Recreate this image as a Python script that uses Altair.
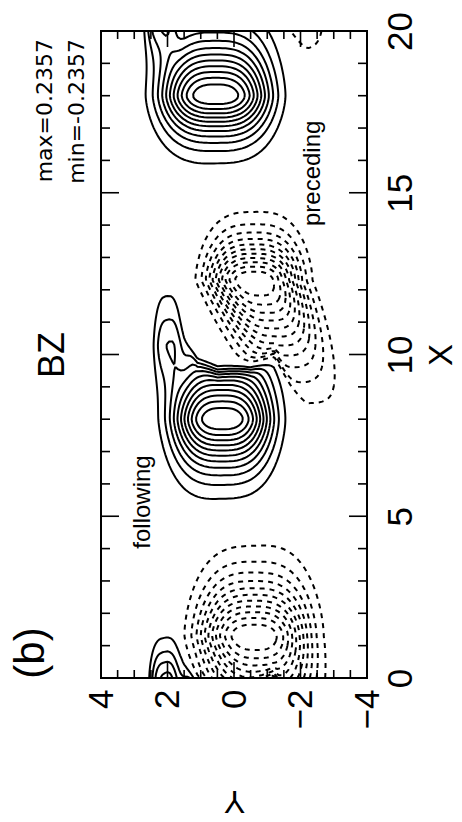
import numpy as np
import pandas as pd
import altair as alt
from collections import defaultdict

alt.data_transformers.disable_max_rows()

FONT = "Liberation Sans"
NOTE_FONT = "DejaVu Sans"

# Extremes of the Bz field and number of contour steps between 0 and each extreme
BZ_MAX = 0.2357
BZ_MIN = -0.2357
N_STEPS = 12

# Polarity pairs: positive lobe followed (in X) by a negative lobe.
# Widths are given below / above the centre in X and across Y.
pos_x = [-2.0, 8.0, 18.0]
pos_y = [0.5, 0.35, 0.55]
pos_sx_lo = [1.42, 1.42, 1.19]
pos_sx_hi = [1.6, 1.6, 1.6]
pos_sy = [1.4, 1.4, 1.55]
neg_x = [1.3, 12.3, 22.8]
neg_y = [-0.6, -0.6, -0.6]
neg_sx_lo = [2.0, 2.2, 2.0]
neg_sx_hi = [1.6, 1.2, 1.2]
neg_sy = [1.55, 1.3, 1.3]
neg_tilt = [0.15, 0.4, 0.3]   # drift of the lobe axis in Y per unit X, on its low-X side
iface_shift = [0.0, 0.0, 1.0]

# Interface between the lobes of a pair, as X offset from the positive centre
iface_y = [-4.0, -2.2, -1.7, -1.2, -0.5, 0.5, 1.1, 1.5, 1.9, 4.0]
iface_dx = [0.2, 0.2, 1.0, 2.0, 1.6, 1.5, 1.8, 2.6, 4.0, 5.0]
IFACE_W = 0.12

# Secondary positive fingers along Y ~ 2
ext_x = [0.0, 10.3, 20.3]
ext_y = [2.1, 2.0, 2.2]
ext_amp = [0.3, 0.22, 0.3]
ext_sx_lo = [1.0, 1.2, 1.0]
ext_sx_hi = [1.0, 1.5, 1.0]
ext_sy = [0.4, 0.41, 0.45]

# Profile exponents along X and Y
P_X = 1.6
P_Y = 3.0

# Axis ticks
X_LABELS = [0, 5, 10, 15, 20]
X_MAJOR = [5, 10, 15]
X_MINOR = [1, 2, 3, 4, 6, 7, 8, 9, 11, 12, 13, 14, 16, 17, 18, 19]
Y_LABELS = [-4, -2, 0, 2, 4]
Y_MAJOR = [-2, 0, 2]
Y_MINOR = [-3.5, -3, -2.5, -1.5, -1, -0.5, 0.5, 1, 1.5, 2.5, 3, 3.5]

# Region labels placed in data coordinates
region_text = ["following", "preceding"]
region_x = [5.44, 15.6]
region_y = [2.74, -2.38]

# ---------------------------------------------------------------- field on a grid
xs = np.linspace(0.0, 20.0, 401)
ys = np.linspace(-4.0, 4.0, 161)
XX, YY = np.meshgrid(xs, ys)


def lobe(cx, cy, amp, slo, shi, sy, tilt=0.0):
    sx = np.where(XX < cx, slo, shi)
    cy_eff = cy + tilt * np.minimum(XX - cx, 0.0)
    return amp * np.exp(-(np.abs((XX - cx) / sx) ** P_X + np.abs((YY - cy_eff) / sy) ** P_Y))


Z = np.zeros_like(XX)
for k in range(len(pos_x)):
    xi = pos_x[k] + iface_shift[k] + np.interp(YY, iface_y, iface_dx)
    step = 1.0 / (1.0 + np.exp(-(XX - xi) / IFACE_W))
    Z += lobe(pos_x[k], pos_y[k], 1.0, pos_sx_lo[k], pos_sx_hi[k], pos_sy[k]) * (1 - step)
    Z += lobe(neg_x[k], neg_y[k], -1.0, neg_sx_lo[k], neg_sx_hi[k], neg_sy[k],
              neg_tilt[k]) * step
for args in zip(ext_x, ext_y, ext_amp, ext_sx_lo, ext_sx_hi, ext_sy):
    Z += lobe(*args)
Z = np.where(Z > 0, Z / Z.max() * BZ_MAX, Z / (-Z.min()) * (-BZ_MIN))


def edge_point(e, level):
    kind, j, i = e
    if kind == 0:
        z0, z1 = Z[j, i], Z[j, i + 1]
        t = (level - z0) / (z1 - z0)
        return xs[i] + t * (xs[i + 1] - xs[i]), ys[j]
    z0, z1 = Z[j, i], Z[j + 1, i]
    t = (level - z0) / (z1 - z0)
    return xs[i], ys[j] + t * (ys[j + 1] - ys[j])


def contour_paths(level):
    """Marching squares, stitched into polylines."""
    B = Z > level
    a, b, c, d = B[:-1, :-1], B[:-1, 1:], B[1:, 1:], B[1:, :-1]
    code = a * 1 + b * 2 + c * 4 + d * 8
    js, iis = np.nonzero((code != 0) & (code != 15))
    segs = []
    for j, i in zip(js, iis):
        e0, e1, e2, e3 = (0, j, i), (1, j, i + 1), (0, j + 1, i), (1, j, i)
        ca, cb, cc, cdd = a[j, i], b[j, i], c[j, i], d[j, i]
        cd = code[j, i]
        if cd in (5, 10):
            centre = (Z[j, i] + Z[j, i + 1] + Z[j + 1, i] + Z[j + 1, i + 1]) / 4 > level
            if (cd == 5) == centre:
                segs += [(e0, e1), (e2, e3)]
            else:
                segs += [(e0, e3), (e1, e2)]
            continue
        crossed = []
        if ca != cb:
            crossed.append(e0)
        if cb != cc:
            crossed.append(e1)
        if cc != cdd:
            crossed.append(e2)
        if cdd != ca:
            crossed.append(e3)
        segs.append((crossed[0], crossed[1]))

    adj = defaultdict(list)
    for k, (p, q) in enumerate(segs):
        adj[p].append(k)
        adj[q].append(k)
    used = [False] * len(segs)
    ends = [e for e, ks in adj.items() if len(ks) == 1]
    paths = []
    for e in ends + list(adj.keys()):
        for k in adj[e]:
            if used[k]:
                continue
            chain = [e]
            cur_e, cur_k = e, k
            while True:
                used[cur_k] = True
                p, q = segs[cur_k]
                nxt = q if p == cur_e else p
                chain.append(nxt)
                cand = [kk for kk in adj[nxt] if not used[kk]]
                if not cand:
                    break
                cur_e, cur_k = nxt, cand[0]
            paths.append([edge_point(ed, level) for ed in chain])
    return paths


rows = []
pid = 0
for k in range(1, N_STEPS):
    for sign, level in (("pos", BZ_MAX * k / N_STEPS), ("neg", BZ_MIN * k / N_STEPS)):
        for path in contour_paths(level):
            if len(path) < 3:
                continue
            keep = path[::2]
            if keep[-1] is not path[-1]:
                keep.append(path[-1])
            for s, (px, py) in enumerate(keep):
                rows.append({"path": pid, "seq": s, "X": px, "Y": py, "sign": sign})
            pid += 1
contours = pd.DataFrame(rows)

# ---------------------------------------------------------------- chart
W, H = 266, 647

x_enc = alt.X(
    "Y:Q",
    scale=alt.Scale(domain=[4, -4], nice=False, zero=False),
    axis=alt.Axis(
        values=Y_LABELS, orient="bottom", labelAngle=270, labelAlign="right",
        labelBaseline="middle", labelFontSize=35, labelFont=FONT, labelColor="black",
        labelPadding=11, labelFlush=False, ticks=False, domain=False, grid=False,
        title="Y", titleFont=FONT, titleFontSize=32, titleFontWeight="normal",
        titleColor="black", titleAngle=180, titleX=133, titleY=122,
        titleAlign="center", titleBaseline="middle",
    ),
)
y_enc = alt.Y(
    "X:Q",
    scale=alt.Scale(domain=[0, 20], nice=False, zero=False),
    axis=alt.Axis(
        values=X_LABELS, orient="right", labelAngle=270, labelAlign="center",
        labelBaseline="top", labelFontSize=35, labelFont=FONT, labelColor="black",
        labelPadding=16, labelFlush=False, ticks=False, domain=False, grid=False,
        title="X", titleFont=FONT, titleFontSize=33, titleFontWeight="normal",
        titleColor="black", titleAngle=270, titleX=74, titleY=H / 2,
        titleAlign="center", titleBaseline="middle",
    ),
)

pos = alt.Chart(contours[contours.sign == "pos"]).mark_line(
    color="black", strokeWidth=2.0, clip=True
).encode(x=x_enc, y=y_enc, detail="path:N", order="seq:Q")

neg = alt.Chart(contours[contours.sign == "neg"]).mark_line(
    color="black", strokeWidth=2.0, strokeDash=[5, 5], clip=True
).encode(x="Y:Q", y="X:Q", detail="path:N", order="seq:Q")


def x_ticks(vals, length):
    df = pd.DataFrame({"X": vals})
    left = alt.Chart(df).mark_rule(color="black", strokeWidth=1.6).encode(
        y="X:Q", x=alt.value(0), x2=alt.value(length))
    right = alt.Chart(df).mark_rule(color="black", strokeWidth=1.6).encode(
        y="X:Q", x=alt.value(W - length), x2=alt.value(W))
    return [left, right]


def y_ticks(vals, length):
    df = pd.DataFrame({"Y": vals})
    top = alt.Chart(df).mark_rule(color="black", strokeWidth=1.6).encode(
        x="Y:Q", y=alt.value(0), y2=alt.value(length))
    bottom = alt.Chart(df).mark_rule(color="black", strokeWidth=1.6).encode(
        x="Y:Q", y=alt.value(H - length), y2=alt.value(H))
    return [top, bottom]


regions = alt.Chart(pd.DataFrame({"X": region_x, "Y": region_y, "t": region_text})).mark_text(
    angle=270, font=FONT, fontSize=24, align="center", baseline="middle", color="black"
).encode(x="Y:Q", y="X:Q", text="t:N")


def note(text, px, py, size, font=FONT, align="center", baseline="middle"):
    return alt.Chart(pd.DataFrame({"t": [text]})).mark_text(
        angle=270, font=font, fontSize=size, align=align, baseline=baseline, color="black"
    ).encode(x=alt.value(px), y=alt.value(py), text="t:N")


notes = [
    note("BZ", -48, 324, 36),
    note("(b)", -70, 622, 42),
    note(f"max={BZ_MAX}", -49, 8, 22, font=NOTE_FONT, align="right", baseline="alphabetic"),
    note(f"min={BZ_MIN}", -17, 8, 22, font=NOTE_FONT, align="right", baseline="alphabetic"),
]

chart = alt.layer(
    pos, neg,
    *x_ticks(X_MINOR, 9), *x_ticks(X_MAJOR, 18),
    *y_ticks(Y_MINOR, 8), *y_ticks(Y_MAJOR, 16),
    regions, *notes,
).properties(
    width=W, height=H,
    autosize=alt.AutoSizeParams(type="none"),
    padding={"left": 101, "top": 31, "right": 95, "bottom": 144},
    background="white",
).configure_view(stroke="black", strokeWidth=2)

chart.save("out.html", embed_options={"renderer": "svg", "actions": False})
